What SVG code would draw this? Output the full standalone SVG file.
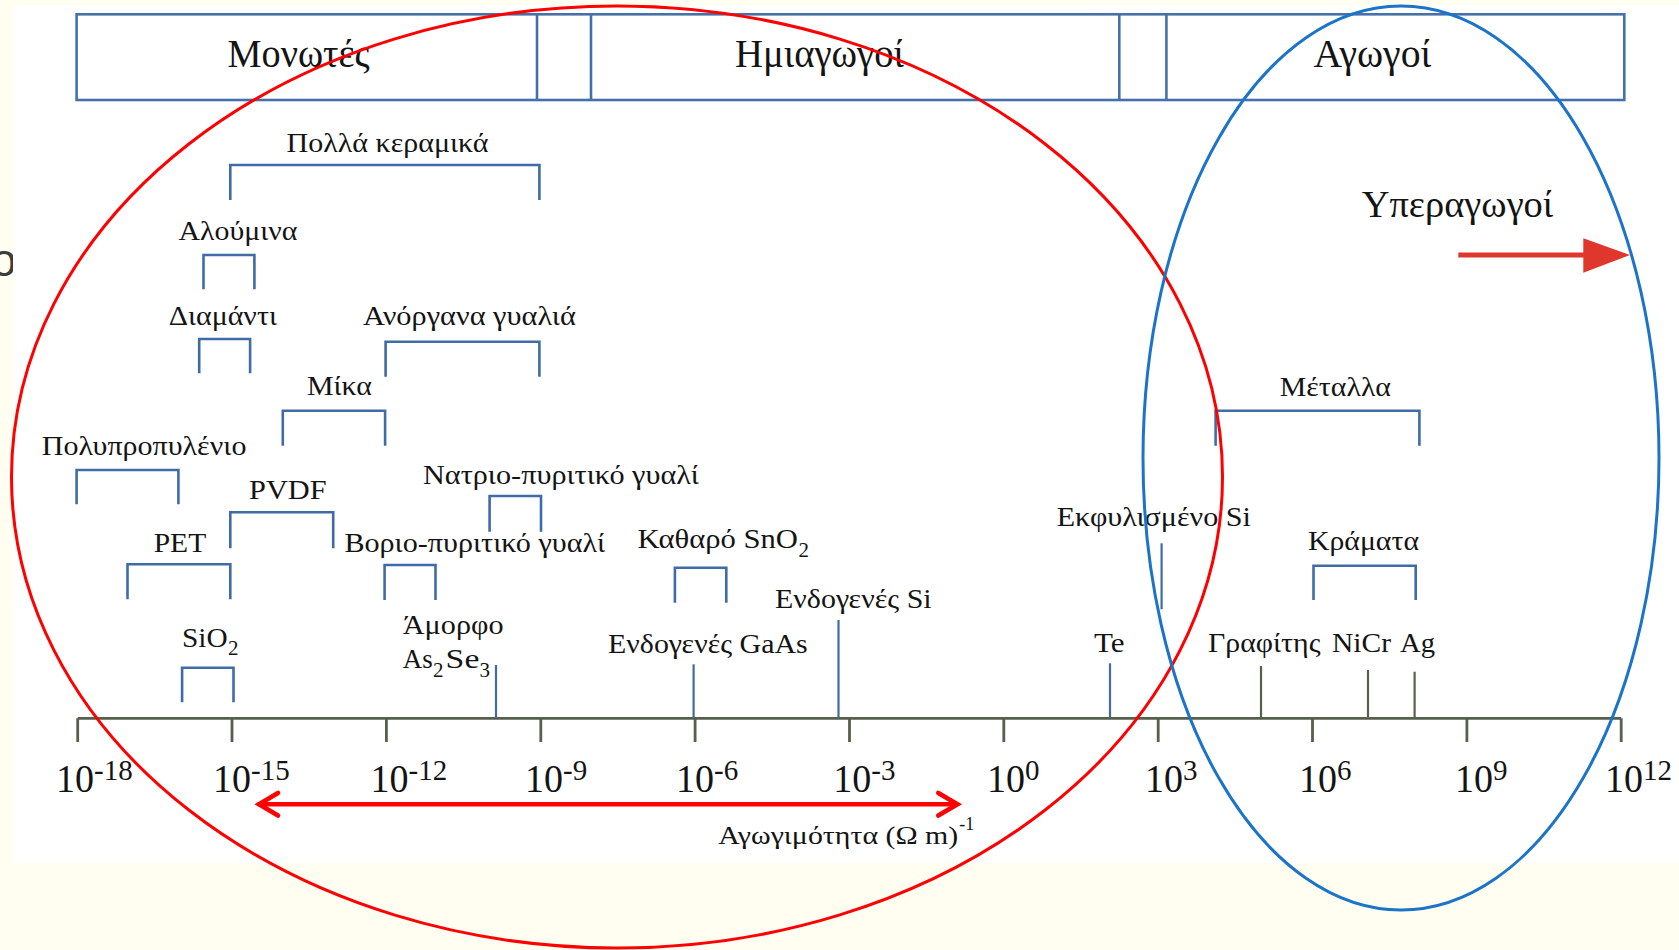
<svg xmlns="http://www.w3.org/2000/svg" width="1679" height="950" viewBox="0 0 1679 950">
<style>
.t{font-family:"Liberation Serif","Times New Roman",serif;fill:#141414;}
.h{font-size:40px;}
.l{font-size:28px;}
.sub{font-size:21px;}
.tk{font-size:40px;}
.sp{font-size:29px;}
.br{fill:none;stroke:#3f6ba6;stroke-width:2.6;}
.bl{stroke:#3f6ba6;stroke-width:2.2;}
.ol{stroke:#56604c;stroke-width:2.2;}
.ax{fill:none;stroke:#56604c;stroke-width:2.8;}
.box{fill:none;stroke:#4670a8;stroke-width:2.6;}
</style>
<rect x="0" y="0" width="1679" height="950" fill="#fffef1"/>
<text x="-9" y="276" style="font-family:'Liberation Sans',Arial,sans-serif;font-size:46px;fill:#3c3c3c">o</text>
<rect x="13" y="5" width="1666" height="858" fill="#ffffff"/>

<g id="categories">
<rect class="box" x="76.6" y="14.3" width="1547.7" height="85.7"/>
<line class="box" x1="537" y1="14.3" x2="537" y2="100"/>
<line class="box" x1="591" y1="14.3" x2="591" y2="100"/>
<line class="box" x1="1119.3" y1="14.3" x2="1119.3" y2="100"/>
<line class="box" x1="1166.4" y1="14.3" x2="1166.4" y2="100"/>
<text id="insulators" class="t h" x="227.6" y="66.7" textLength="142" lengthAdjust="spacingAndGlyphs">Μονωτές</text>
<text id="semiconductors" class="t h" x="735" y="66.7" textLength="169" lengthAdjust="spacingAndGlyphs">Ημιαγωγοί</text>
<text id="conductors" class="t h" x="1313.5" y="66.7" textLength="117.7" lengthAdjust="spacingAndGlyphs">Αγωγοί</text>
</g>

<g id="superconductors">
<text class="t" x="1361.7" y="216.7" style="font-size:38px" textLength="191.5" lengthAdjust="spacingAndGlyphs">Υπεραγωγοί</text>
<line x1="1458.3" y1="255" x2="1586" y2="255" stroke="#e0372d" stroke-width="4.8"/>
<polygon points="1583.3,238.3 1630,255 1583.3,272.7" fill="#e0372d"/>
</g>

<g id="ceramics"><path class="br" d="M230.3,200 V165 H539.4 V200"/><text class="t l" x="286.6" y="151.7" textLength="202" lengthAdjust="spacingAndGlyphs">Πολλά κεραμικά</text></g>
<g id="alumina"><path class="br" d="M203.5,289.3 V255 H254.4 V289.3"/><text class="t l" x="178.4" y="240" textLength="119" lengthAdjust="spacingAndGlyphs">Αλούμινα</text></g>
<g id="diamond"><path class="br" d="M199.2,373.3 V339 H250.1 V373.3"/><text class="t l" x="168.7" y="325" textLength="108.3" lengthAdjust="spacingAndGlyphs">Διαμάντι</text></g>
<g id="inorganic-glass"><path class="br" d="M385.6,376.7 V341.7 H539.4 V376.7"/><text class="t l" x="363" y="325" textLength="212.8" lengthAdjust="spacingAndGlyphs">Ανόργανα γυαλιά</text></g>
<g id="mica"><path class="br" d="M282.8,445.7 V410.7 H385.1 V445.7"/><text class="t l" x="307" y="395" textLength="65" lengthAdjust="spacingAndGlyphs">Μίκα</text></g>
<g id="polypropylene"><path class="br" d="M76.6,504.3 V470 H178.4 V504.3"/><text class="t l" x="41.8" y="455" textLength="204.6" lengthAdjust="spacingAndGlyphs">Πολυπροπυλένιο</text></g>
<g id="soda-lime-glass"><path class="br" d="M489.6,531.7 V496 H541 V531.7"/><text class="t l" x="423" y="483.5" textLength="276" lengthAdjust="spacingAndGlyphs">Νατριο-πυριτικό γυαλί</text></g>
<g id="pvdf"><path class="br" d="M230.3,548.3 V512.3 H333.2 V548.3"/><text class="t l" x="249" y="499.3" textLength="77.7" lengthAdjust="spacingAndGlyphs">PVDF</text></g>
<g id="pet"><path class="br" d="M127.5,599.3 V564.3 H230.3 V599.3"/><text class="t l" x="153.7" y="551.7" textLength="52.5" lengthAdjust="spacingAndGlyphs">PET</text></g>
<g id="borosilicate-glass"><path class="br" d="M384.6,600 V565 H435.5 V600"/><text class="t l" x="344.4" y="551.7" textLength="260.8" lengthAdjust="spacingAndGlyphs">Βοριο-πυριτικό γυαλί</text></g>
<g id="sno2"><path class="br" d="M674.9,602.7 V567.7 H726.3 V602.7"/><text class="t l" x="637.4" y="548.3" textLength="160.6" lengthAdjust="spacingAndGlyphs">Καθαρό SnO</text><text class="t sub" x="798.5" y="556.5">2</text></g>
<g id="sio2"><path class="br" d="M182.1,702.3 V667.7 H233.5 V702.3"/><text class="t l" x="182" y="646.7" textLength="45.6" lengthAdjust="spacingAndGlyphs">SiO</text><text class="t sub" x="228" y="655">2</text></g>
<g id="as2se3"><text class="t l" x="402.8" y="634.3" textLength="100.7" lengthAdjust="spacingAndGlyphs">Άμορφο</text><text class="t l" x="402.8" y="668.3" textLength="30" lengthAdjust="spacingAndGlyphs">As</text><text class="t sub" x="433" y="676.5">2</text><text class="t l" x="445.6" y="668.3" textLength="33.8" lengthAdjust="spacingAndGlyphs">Se</text><text class="t sub" x="479.4" y="676.5">3</text></g>
<g id="gaas"><text class="t l" x="608" y="653.3" textLength="199.7" lengthAdjust="spacingAndGlyphs">Ενδογενές GaAs</text></g>
<g id="intrinsic-si"><text class="t l" x="775" y="608.3" textLength="156.6" lengthAdjust="spacingAndGlyphs">Ενδογενές Si</text></g>
<g id="degenerate-si"><text class="t l" x="1056.7" y="526" textLength="194.2" lengthAdjust="spacingAndGlyphs">Εκφυλισμένο Si</text></g>
<g id="alloys"><path class="br" d="M1313.5,600 V565.7 H1415.7 V600"/><text class="t l" x="1308" y="550" textLength="111" lengthAdjust="spacingAndGlyphs">Κράματα</text></g>
<g id="te"><text class="t l" x="1094" y="651.7" textLength="30.6" lengthAdjust="spacingAndGlyphs">Te</text></g>
<g id="graphite"><text class="t l" x="1208" y="651.7" textLength="112.5" lengthAdjust="spacingAndGlyphs">Γραφίτης</text></g>
<g id="nicr"><text class="t l" x="1332" y="651.7" textLength="59" lengthAdjust="spacingAndGlyphs">NiCr</text></g>
<g id="ag"><text class="t l" x="1400" y="651.7" textLength="35" lengthAdjust="spacingAndGlyphs">Ag</text></g>
<g id="metals"><path class="br" d="M1215.6,445.7 V410.7 H1419.4 V445.7"/><text class="t l" x="1279.8" y="396" textLength="111.2" lengthAdjust="spacingAndGlyphs">Μέταλλα</text></g>

<g id="connectors">
<line class="bl" x1="496" y1="665" x2="496" y2="718"/>
<line class="bl" x1="693.6" y1="664.3" x2="693.6" y2="718"/>
<line class="bl" x1="838.5" y1="620" x2="838.5" y2="718"/>
<line class="bl" x1="1161.6" y1="543.3" x2="1161.6" y2="609.3"/>
<line class="bl" x1="1110" y1="663.3" x2="1110" y2="718"/>
<line class="ol" x1="1261" y1="666" x2="1261" y2="718"/>
<line class="ol" x1="1368" y1="670" x2="1368" y2="718"/>
<line class="ol" x1="1414.6" y1="671.7" x2="1414.6" y2="718"/>
</g>

<g id="axis">
<path class="ax" d="M77.7,718.3 H1621.2 M77.7,718.3 V742 M232,718.3 V742 M386.4,718.3 V742 M540.8,718.3 V742 M695.1,718.3 V742 M849.5,718.3 V742 M1003.8,718.3 V742 M1158.2,718.3 V742 M1312.5,718.3 V742 M1466.9,718.3 V742 M1621.2,718.3 V742"/>
<g class="t">
<text class="tk" x="56" y="791.7" textLength="38" lengthAdjust="spacingAndGlyphs">10</text><text class="sp" x="94" y="780">-18</text>
<text class="tk" x="213" y="791.7" textLength="38" lengthAdjust="spacingAndGlyphs">10</text><text class="sp" x="251" y="780">-15</text>
<text class="tk" x="370.6" y="791.7" textLength="38" lengthAdjust="spacingAndGlyphs">10</text><text class="sp" x="408.6" y="780">-12</text>
<text class="tk" x="525" y="791.7" textLength="38" lengthAdjust="spacingAndGlyphs">10</text><text class="sp" x="563" y="780">-9</text>
<text class="tk" x="676" y="791.7" textLength="38" lengthAdjust="spacingAndGlyphs">10</text><text class="sp" x="714" y="780">-6</text>
<text class="tk" x="833.3" y="791.7" textLength="38" lengthAdjust="spacingAndGlyphs">10</text><text class="sp" x="871.3" y="780">-3</text>
<text class="tk" x="987" y="791.7" textLength="38" lengthAdjust="spacingAndGlyphs">10</text><text class="sp" x="1025" y="780">0</text>
<text class="tk" x="1145" y="791.7" textLength="38" lengthAdjust="spacingAndGlyphs">10</text><text class="sp" x="1183" y="780">3</text>
<text class="tk" x="1299" y="791.7" textLength="38" lengthAdjust="spacingAndGlyphs">10</text><text class="sp" x="1337" y="780">6</text>
<text class="tk" x="1455" y="791.7" textLength="38" lengthAdjust="spacingAndGlyphs">10</text><text class="sp" x="1493" y="780">9</text>
<text class="tk" x="1605" y="791.7" textLength="38" lengthAdjust="spacingAndGlyphs">10</text><text class="sp" x="1643" y="780">12</text>
</g>
<text class="t" x="718.3" y="844" style="font-size:26px" textLength="240" lengthAdjust="spacingAndGlyphs">Αγωγιμότητα (Ω m)</text>
<text class="t" x="959.3" y="830" style="font-size:18px">-1</text>
</g>

<g id="range-arrow" fill="none" stroke="#ff0000" stroke-width="4.6" stroke-linecap="round" stroke-linejoin="miter">
<line x1="259" y1="804.3" x2="956" y2="804.3"/>
<polyline points="278,793 259,804.3 278,815.6"/>
<polyline points="938.3,793 957.5,804.3 938.3,815.6"/>
</g>

<g id="groupings" fill="none" stroke-width="3">
<ellipse cx="617" cy="477" rx="605.5" ry="471" stroke="#ff0000"/>
<ellipse cx="1401" cy="458" rx="258" ry="452" stroke="#1c74c9"/>
</g>
</svg>
